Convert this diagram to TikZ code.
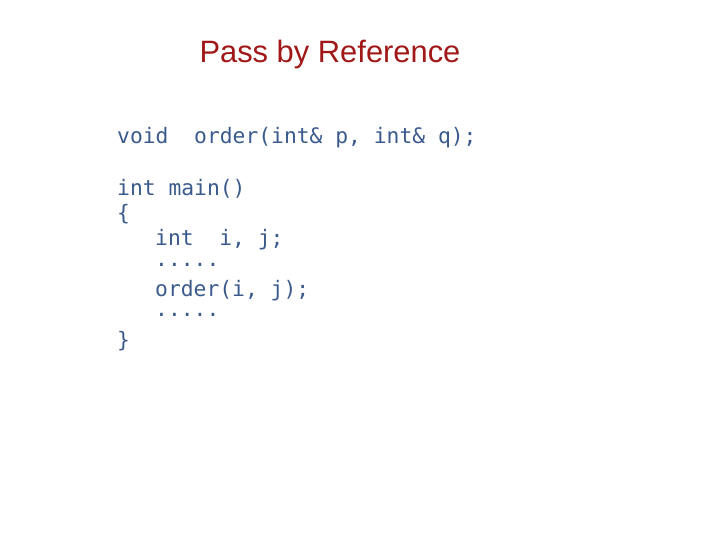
\documentclass[tikz,border=0pt]{standalone}
\usepackage{fontspec}
\setmainfont{Liberation Sans}
\newfontfamily\codefont{DejaVu Sans Mono}
\definecolor{titlered}{HTML}{A01818}
\definecolor{codeblue}{HTML}{3A5A8C}
\begin{document}
\begin{tikzpicture}[x=1bp,y=-1bp,
  codeline/.style={anchor=west,inner sep=0pt,text=codeblue,font=\codefont\fontsize{21.4}{24}\selectfont}]
\useasboundingbox (0,0) rectangle (720,540);
\node[text=titlered,font=\fontsize{31}{36}\selectfont] (title) at (330,55) {Pass by Reference};
\node[codeline] (l1) at (117,138) {void\ \ order(int\&\ p,\ int\&\ q);};
\node[codeline] (l2) at (117,189) {int main()};
\node[codeline] (l3) at (117,214) {\{};
\node[codeline] (l4) at (155,240) {int\ \ i,\ j;};
\node[codeline] (l5) at (155,265) {.....};
\node[codeline] (l6) at (155,291) {order(i,\ j);};
\node[codeline] (l7) at (155,315) {.....};
\node[codeline] (l8) at (117,341) {\}};
\end{tikzpicture}
\end{document}
